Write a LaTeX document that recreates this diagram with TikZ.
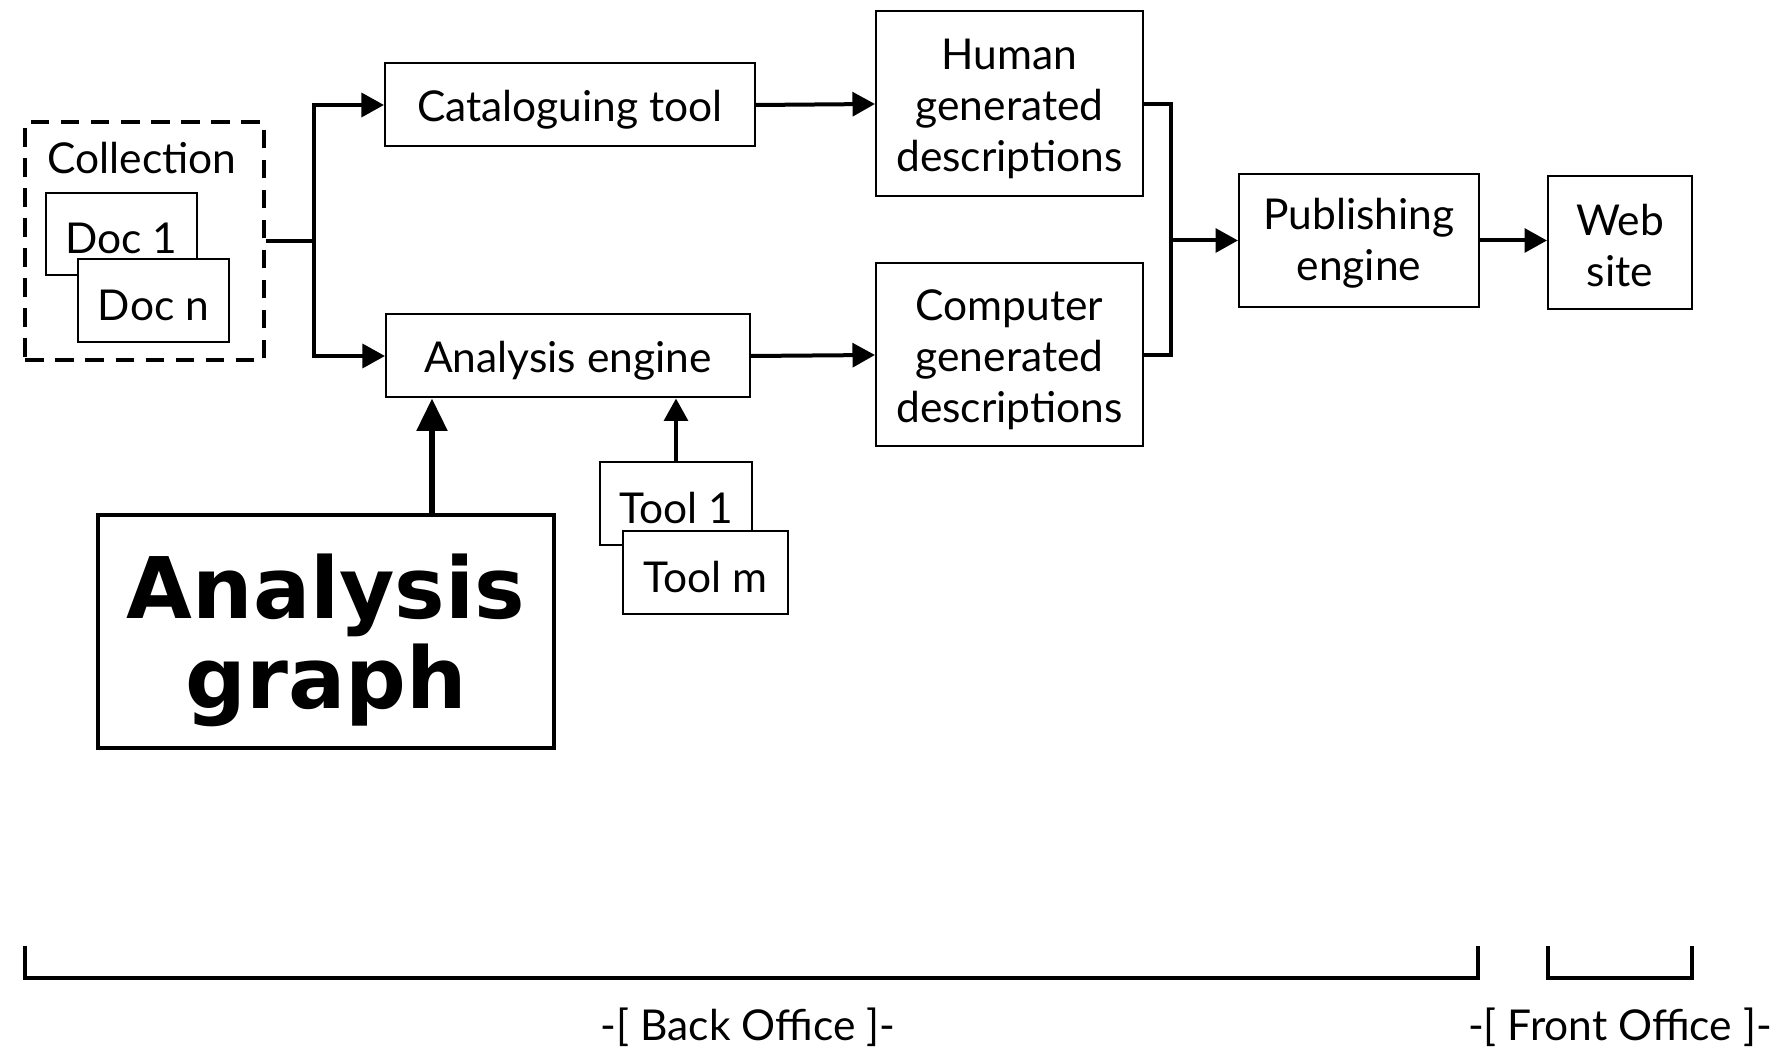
\documentclass[tikz,border=0pt]{standalone}
\usepackage{fontspec}
\setmainfont{Lato}
\newfontfamily\headfont{DejaVu Sans}
\usetikzlibrary{arrows.meta,calc}
% tall invisible strut that lowers the text inside a box
\newcommand{\toppad}[1]{\rule{0pt}{#1}}

\begin{document}
\begin{tikzpicture}[x=0.4pt,y=-0.4pt,
  box/.style={draw,line width=0.8pt,fill=white,inner sep=0pt,align=center,
    font=\fontsize{17}{20.4}\selectfont},
  dashbox/.style={draw,line width=1.6pt,dash pattern=on 7.5pt off 4.5pt,inner sep=0pt},
  bigbox/.style={draw,line width=1.6pt,inner sep=0pt,align=center,
    font=\headfont\bfseries\fontsize{34}{36}\selectfont},
  conn/.style={line width=1.6pt},
  arr/.style={line width=1.6pt,-{Triangle[length=9pt,width=9.5pt]}},
  arrbig/.style={line width=2.2pt,-{Triangle[length=13pt,width=12pt]}},
  lbl/.style={font=\fontsize{17}{20.4}\selectfont,inner sep=0pt},
  bracket/.style={line width=1.6pt}
]
\useasboundingbox (0,0) rectangle (1776,1051);

% collection of documents
\node[dashbox,minimum width=95.2pt,minimum height=95.2pt] (coll) at (144.5,241.5) {};
\node[lbl] (colltext) at (142,158) {Collection};
\node[box,minimum width=60.4pt,minimum height=32.8pt] (doc1) at (121.5,234) {\toppad{16pt}Doc 1};
\node[box,minimum width=60.4pt,minimum height=33.2pt] (docn) at (153.5,300.5) {\toppad{16pt}Doc n};

% processing chain
\node[box,minimum width=148pt,minimum height=33.2pt] (cat) at (570,105) {\toppad{16pt}Cataloguing tool};
\node[box,minimum width=145.6pt,minimum height=33.2pt] (ana) at (568,356) {\toppad{16pt}Analysis engine};
\node[box,minimum width=106.8pt,minimum height=74pt] (human) at (1009.5,104) {\toppad{16pt}Human\\generated\\descriptions};
\node[box,minimum width=106.8pt,minimum height=73.2pt] (comp) at (1009.5,355) {\toppad{16pt}Computer\\generated\\descriptions};
\node[box,minimum width=96pt,minimum height=53.2pt] (pub) at (1359,240.5) {\toppad{15pt}Publishing\\engine};
\node[box,minimum width=57.6pt,minimum height=53.2pt] (web) at (1620,242.5) {\toppad{15pt}Web\\site};

% tools
\node[box,minimum width=60.8pt,minimum height=33.2pt] (tool1) at (676,503.5) {\toppad{16pt}Tool 1};
\node[box,minimum width=66pt,minimum height=33.2pt] (toolm) at (705.5,572.5) {\toppad{16pt}Tool m};

% analysis graph
\node[bigbox,minimum width=182.4pt,minimum height=93.2pt] (graph) at (326,631.5) {\toppad{33pt}Analysis\\graph};
\coordinate (gtap) at (432,515);

% connectors
\draw[conn] (coll.east) -- ++(48,0) coordinate (split);
\draw[arr] (split) |- (cat.west);
\draw[arr] (split) |- (ana.west);
\draw[arr] (cat.east) -- (human.west);
\draw[arr] (ana.east) -- (comp.west);
\coordinate (merge) at (1171,230);
\draw[conn] (human.east) -- (merge |- human.east) -- (merge |- comp.east) -- (comp.east);
\draw[arr] (merge |- pub.west) -- (pub.west);
\draw[arr] (pub.east) -- (pub.east -| web.west);
\draw[arr] (tool1.north) -- (tool1.north |- ana.south);
\draw[arrbig] (gtap) -- (gtap |- ana.south);

% office brackets
\coordinate (b1) at (25,946);
\coordinate (b2) at (1478,946);
\coordinate (f1) at (1548,946);
\coordinate (f2) at (1692,946);
\draw[bracket] (b1) -- ++(0,32) -- ($(b2)+(0,32)$) -- (b2);
\draw[bracket] (f1) -- ++(0,32) -- ($(f2)+(0,32)$) -- (f2);
\node[lbl] (back) at (748,1027) {-[ Back Office ]-};
\node[lbl] (front) at (1620,1027) {-[ Front Office ]-};
\end{tikzpicture}
\end{document}
